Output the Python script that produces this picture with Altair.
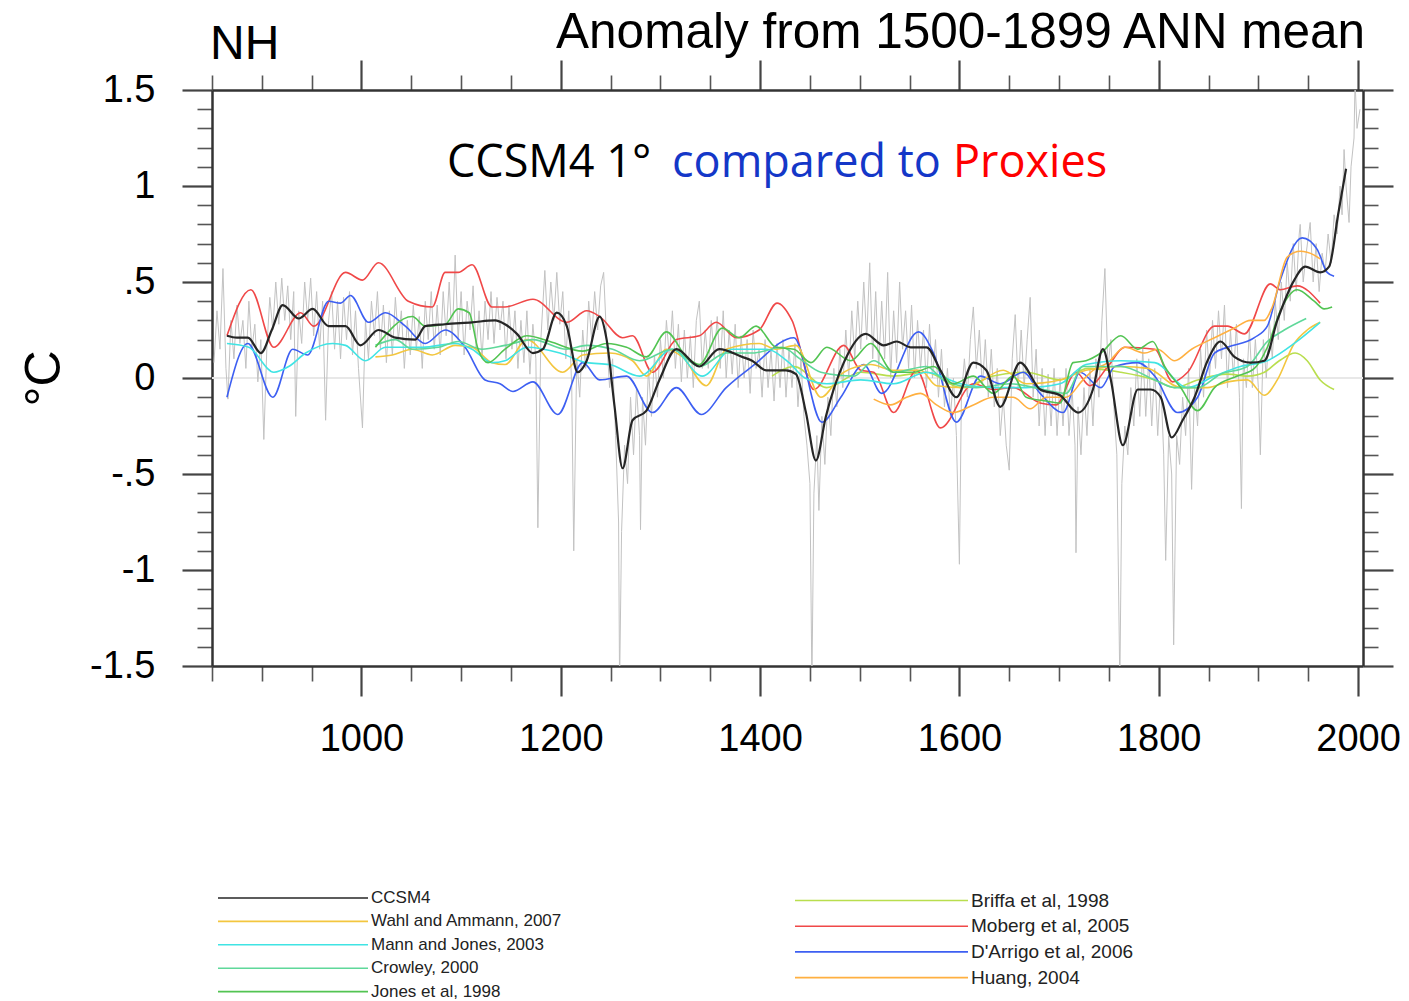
import altair as alt
import pandas as pd

# ---------------- text ----------------
left_title = "NH"
right_title = "Anomaly from 1500-1899 ANN mean"
headline_parts = ["CCSM4 1° ", "compared to ", "Proxies"]
headline_colors = ["#000000", "#1437c8", "#ff0000"]
y_title = "°C"

# ---------------- ticks ----------------
x_major = [1000, 1200, 1400, 1600, 1800, 2000]
x_minor = [850, 900, 950, 1050, 1100, 1150, 1250, 1300, 1350, 1450, 1500, 1550, 1650, 1700, 1750, 1850, 1900, 1950]
y_major = [-1.5, -1.0, -0.5, 0.0, 0.5, 1.0, 1.5]
y_minor = [-1.4, -1.3, -1.2, -1.1, -0.9, -0.8, -0.7, -0.6, -0.4, -0.3, -0.2, -0.1,
           0.1, 0.2, 0.3, 0.4, 0.6, 0.7, 0.8, 0.9, 1.1, 1.2, 1.3, 1.4]

# ---------------- legend categories ----------------
left_names = ["CCSM4", "Wahl and Ammann, 2007", "Mann and Jones, 2003", "Crowley, 2000", "Jones et al, 1998"]
left_colors = ["#262626", "#f3c63f", "#40e4e4", "#5fd89a", "#52c452"]
right_names = ["Briffa et al, 1998", "Moberg et al, 2005", "D'Arrigo et al, 2006", "Huang, 2004"]
right_colors = ["#b9de4e", "#f04848", "#3d5ff2", "#ffb040"]

# ---------------- series (year, anomaly) ----------------
# CCSM4 annual, last-millennium run
ccsm4_annual_lm = [
    (852, .08), (855, .35), (858, .15), (861, .57), (864, .05), (866, -.11), (869, .30), (872, .10), (875, .38),
    (878, .18), (881, .30), (884, .05), (887, .40), (890, .15), (893, .28), (896, -.02), (899, .20), (902, -.32),
    (905, .15), (908, .42), (911, .25), (914, .50), (917, .28), (920, .52), (923, .30), (926, .48), (929, .20),
    (932, .45), (934, -.20), (937, .35), (940, .18), (943, .50), (946, .30), (949, .52), (952, .22), (955, .45),
    (958, .15), (961, .40), (964, -.22), (967, .30), (970, .45), (973, .15), (976, .40), (979, .10), (982, .42),
    (985, .20), (988, .45), (991, .12), (994, .35), (997, .05), (1001, -.26), (1004, .30), (1007, .10), (1010, .40),
    (1013, .22), (1016, .45), (1019, .15), (1022, .38), (1025, .08), (1028, .35), (1031, .12), (1034, .42),
    (1037, .20), (1040, .35), (1043, .05), (1046, .30), (1049, .12), (1052, .38), (1055, .15), (1058, .32),
    (1061, .05), (1064, .40), (1067, .20), (1070, .45), (1073, .15), (1076, .38), (1079, .12), (1082, .45),
    (1085, .22), (1088, .50), (1091, .18), (1094, .64), (1097, .20), (1100, .45), (1103, .12), (1106, .40),
    (1109, .25), (1112, .48), (1115, .15), (1118, .35), (1121, .10), (1124, .40), (1127, .20), (1130, .45),
    (1133, .18), (1136, .42), (1139, .25), (1142, .40), (1145, .10), (1148, .38), (1151, .15), (1154, .35),
    (1157, .05), (1160, .30), (1163, .08), (1166, .35), (1169, .02), (1172, .28), (1175, .10), (1177, -.78),
    (1180, .20), (1184, .56), (1187, .25), (1190, .50), (1193, .30), (1196, .55), (1199, .28), (1202, .45),
    (1205, .10), (1208, .35), (1211, -.05), (1213, -.90), (1216, .10), (1219, -.10), (1222, .25), (1225, .05),
    (1228, .40), (1231, .20), (1234, .45), (1237, .25), (1240, .48), (1243, .55), (1246, .20), (1249, -.05),
    (1252, .10), (1255, -.30), (1258, -.75), (1259, -1.6), (1261, -.80), (1264, -.35), (1267, -.55), (1270, -.10),
    (1273, -.40), (1276, -.05), (1279, -.30), (1280, -.79), (1282, -.10), (1285, -.35), (1288, .05), (1291, -.20),
    (1294, .12), (1297, -.10), (1300, .20), (1303, .00), (1306, .30), (1309, .10), (1312, .35), (1315, .05),
    (1318, .28), (1321, -.02), (1324, .25), (1327, .00), (1330, .22), (1333, -.05), (1336, .30), (1339, .40),
    (1342, .05), (1345, .25), (1348, .05), (1351, .30), (1354, .10), (1357, .32), (1360, .05), (1363, .35),
    (1366, .00), (1369, .25), (1372, .02), (1375, .28), (1378, -.05), (1381, .22), (1384, .00), (1387, .20),
    (1390, -.08), (1393, .25), (1396, .05), (1399, .15), (1402, -.10), (1405, .20), (1408, -.05), (1411, .15),
    (1414, -.12), (1417, .18), (1420, -.05), (1423, .20), (1426, -.10), (1429, .15), (1432, -.05), (1435, .18),
    (1438, -.15), (1441, .10), (1444, -.20), (1447, -.35), (1450, -.55), (1452, -1.6), (1454, -.60), (1457, -.30),
    (1459, -.69), (1462, -.20), (1465, -.45), (1468, -.10), (1471, -.30), (1474, .05), (1477, -.15), (1480, .15),
    (1483, -.05), (1486, .25), (1489, .00), (1492, .35), (1495, .10), (1498, .40), (1501, .15), (1504, .50),
    (1507, .20), (1510, .60), (1513, .10), (1516, .45), (1519, .05), (1522, .40), (1525, .10), (1528, .55),
    (1531, .00), (1534, .35), (1537, .08), (1540, .50), (1543, .15), (1546, .35), (1549, .05), (1552, .38),
    (1555, .00), (1558, .30), (1561, .05), (1564, .25), (1567, -.05), (1570, .28), (1573, .00), (1576, .20),
    (1579, -.10), (1582, .15), (1585, -.15), (1588, .05), (1591, -.20), (1594, .00), (1597, -.30), (1600, -.97),
    (1602, -.10), (1605, .10), (1608, -.10), (1611, .20), (1614, .37), (1617, .05), (1620, .25), (1623, -.05),
    (1626, .20), (1629, -.10), (1632, .15), (1635, -.15), (1638, .05), (1641, -.30), (1644, -.10), (1647, -.35),
    (1650, -.48), (1653, .10), (1656, .33), (1659, -.05), (1662, .25), (1665, -.05), (1668, .20), (1671, .42),
    (1674, -.10), (1677, .15), (1680, -.25), (1683, .05), (1686, -.30), (1689, .02), (1692, -.25), (1695, .05),
    (1698, -.30), (1701, .00), (1704, -.25), (1707, .05), (1710, -.30), (1713, -.05), (1716, -.35), (1717, -.91),
    (1719, -.15), (1722, -.40), (1725, -.05), (1728, -.30), (1731, .05), (1734, -.25), (1737, .10), (1740, -.10),
    (1743, .30), (1746, .57), (1749, .05), (1752, .20), (1755, -.15), (1758, -.40), (1761, -1.6), (1763, -.55),
    (1766, -.25), (1769, -.40), (1772, -.05), (1775, -.25), (1778, .10), (1781, -.20), (1784, .15), (1787, -.20),
    (1790, .10), (1793, -.25), (1796, .05), (1799, -.30), (1802, .00), (1805, -.40), (1807, -.95), (1810, -.30),
    (1813, -.50), (1815, -1.39), (1818, -.30), (1821, -.45), (1824, -.10), (1827, -.30), (1830, .05), (1833, -.58),
    (1836, -.05), (1839, -.25), (1842, .15), (1845, -.10), (1848, .25), (1851, .00),
]
# CCSM4 annual, historical run
ccsm4_annual_hist = [
    (1851, .00), (1854, .30), (1857, .05),
    (1860, .35), (1863, .10), (1866, .38), (1869, -.05), (1872, .25), (1875, .00), (1878, .28), (1881, -.10),
    (1883, -.68), (1885, .10), (1888, -.05), (1891, .25), (1894, -.05), (1897, .20), (1900, -.05), (1902, -.40),
    (1905, .20), (1908, .00), (1911, .30), (1914, .10), (1917, .40), (1920, .20), (1923, .50), (1926, .30),
    (1929, .60), (1932, .40), (1935, .70), (1938, .45), (1941, .75), (1942, .80), (1945, .50), (1948, .65),
    (1952, .81), (1955, .50), (1958, .70), (1961, .45), (1964, .65), (1967, .55), (1970, .75), (1973, .60),
    (1976, .85), (1979, .75), (1982, 1.00), (1984, .85), (1986, 1.19), (1988, 1.00), (1991, .81), (1993, 1.10),
    (1996, 1.25), (1997, 1.55), (1999, 1.30), (2002, 1.40),
]

ccsm4_smooth = [
    (865, .22), (875, .21), (886, .21), (899, .13), (910, .25), (921, .38), (937, .31), (951, .36), (967, .27),
    (984, .27), (999, .17), (1017, .25), (1034, .21), (1054, .20), (1064, .27), (1084, .28), (1111, .29),
    (1134, .30), (1144, .28), (1156, .23), (1172, .13), (1182, .15), (1196, .34), (1206, .27), (1217, .03),
    (1226, .09), (1239, .32), (1246, .20), (1254, -.15), (1262, -.47), (1272, -.22), (1286, -.17), (1299, -.01),
    (1316, .15), (1339, .06), (1359, .15), (1382, .11), (1392, .09), (1406, .04), (1426, .04), (1436, .02),
    (1446, -.18), (1456, -.43), (1466, -.20), (1484, .08), (1506, .23), (1524, .17), (1537, .19), (1551, .16),
    (1567, .16), (1581, .04), (1597, -.10), (1614, .08), (1627, .04), (1641, -.15), (1661, .08), (1681, -.06),
    (1701, -.09), (1719, -.18), (1734, -.06), (1744, .15), (1752, -.01), (1764, -.35), (1779, -.06), (1792, -.06),
    (1802, -.10), (1813, -.31), (1824, -.22), (1836, -.10), (1849, .09), (1862, .19), (1876, .11), (1892, .08),
    (1906, .09), (1919, .30), (1936, .51), (1947, .58), (1962, .55), (1971, .58), (1980, .85), (1988, 1.09),
]

wahl_2007 = [
    (1014, .11), (1031, .12), (1051, .15), (1071, .12), (1094, .17), (1111, .16), (1131, .08), (1144, .07),
    (1166, .20), (1202, .03), (1222, .12), (1249, .13), (1272, .09), (1286, .01), (1306, .15), (1322, .11),
    (1346, -.04), (1366, .15), (1399, .18), (1416, .15), (1436, .17), (1461, -.10), (1484, .03), (1511, .07),
    (1534, .04), (1561, .04), (1577, -.04), (1607, -.05), (1644, .04), (1667, -.03), (1701, -.01), (1727, .04),
    (1762, .06), (1789, .05), (1822, -.05), (1849, -.05), (1869, -.02), (1889, -.01), (1906, -.09), (1919, -.01),
    (1936, .18), (1949, .25), (1962, .29),
]

mann_jones_2003 = [
    (865, .18), (887, .16), (912, .03), (927, .06), (944, .13), (971, .18), (984, .17), (1004, .09), (1024, .16),
    (1044, .16), (1061, .16), (1094, .18), (1111, .15), (1131, .08), (1144, .09), (1166, .16), (1199, .13),
    (1226, .08), (1249, .07), (1279, .01), (1312, .15), (1342, .01), (1372, .15), (1406, .15), (1429, .08),
    (1445, .00), (1467, -.03), (1501, -.01), (1534, -.03), (1567, .03), (1601, -.03), (1634, -.05), (1667, -.05),
    (1701, -.03), (1727, .07), (1762, .09), (1796, .08), (1829, -.05), (1856, .01), (1882, .06), (1909, .09),
    (1936, .18), (1962, .29),
]

crowley_2000 = [
    (1014, .17), (1034, .20), (1051, .15), (1077, .16), (1097, .19), (1121, .15), (1144, .17), (1172, .20),
    (1206, .15), (1226, .17), (1252, .15), (1279, .09), (1312, .15), (1339, .06), (1366, .13), (1392, .13),
    (1422, .16), (1440, .10), (1461, .03), (1494, .01), (1514, .09), (1534, .03), (1567, .06), (1584, -.01),
    (1617, -.05), (1651, -.03), (1684, -.06), (1707, -.08), (1724, .06), (1762, .06), (1796, -.01), (1816, -.05),
    (1839, -.05), (1862, .02), (1889, .06), (1909, .19), (1926, .25), (1948, .31),
]

jones_1998 = [
    (1014, .16), (1051, .32), (1064, .27), (1084, .28), (1097, .36), (1108, .34), (1117, .15), (1127, .08),
    (1144, .15), (1166, .22), (1189, .19), (1222, .14), (1246, .18), (1266, .16), (1286, .11), (1306, .24),
    (1326, .11), (1339, .07), (1362, .26), (1379, .21), (1396, .27), (1416, .16), (1434, .15), (1451, .08),
    (1467, .16), (1491, .09), (1511, .18), (1534, .03), (1554, .03), (1574, .06), (1594, -.03), (1614, .01),
    (1634, -.08), (1654, .01), (1667, -.10), (1687, -.12), (1701, -.13), (1714, .08), (1727, .09), (1742, .13),
    (1762, .22), (1779, .15), (1794, .19), (1806, .06), (1822, -.05), (1839, -.17), (1856, -.05), (1879, .01),
    (1896, .05), (1909, .16), (1922, .35), (1939, .46), (1956, .40), (1966, .36), (1974, .37),
]

briffa_1998 = [
    (1412, .01), (1434, .06), (1467, -.05), (1501, .03), (1534, .01), (1567, .03), (1601, -.05), (1634, .01),
    (1667, .03), (1701, -.01), (1729, .05), (1762, .03), (1796, -.01), (1816, -.05), (1839, -.01), (1869, .02),
    (1889, .01), (1906, .03), (1921, .09), (1937, .13), (1949, .09), (1962, -.01), (1976, -.06),
]

moberg_2005 = [
    (865, .22), (889, .46), (912, .16), (939, .34), (952, .27), (984, .55), (1001, .51), (1017, .60), (1047, .40),
    (1071, .37), (1084, .55), (1097, .55), (1111, .59), (1131, .37), (1144, .37), (1172, .41), (1206, .29),
    (1226, .35), (1239, .32), (1262, .21), (1272, .22), (1292, .03), (1316, .20), (1339, .22), (1356, .29),
    (1376, .21), (1399, .25), (1417, .39), (1432, .30), (1454, -.06), (1484, .17), (1501, .04), (1514, .03),
    (1534, -.18), (1557, .04), (1581, -.26), (1614, -.03), (1634, -.06), (1654, -.05), (1681, -.13), (1697, -.14),
    (1717, .03), (1731, -.04), (1749, .06), (1766, .16), (1796, .15), (1814, -.02), (1829, .03), (1856, .27),
    (1869, .27), (1886, .23), (1912, .49), (1922, .46), (1939, .48), (1962, .39),
]

darrigo_2006 = [
    (865, -.10), (886, .18), (911, -.10), (931, .15), (946, .12), (967, .40), (979, .39), (989, .43), (1007, .29),
    (1024, .34), (1044, .27), (1064, .18), (1084, .25), (1104, .16), (1124, -.01), (1139, -.03), (1152, -.07),
    (1172, -.02), (1197, -.19), (1222, .08), (1239, -.01), (1266, .01), (1292, -.18), (1316, -.05), (1341, -.19),
    (1366, -.05), (1392, .06), (1434, .21), (1462, -.23), (1481, -.10), (1504, .07), (1522, -.08), (1559, .24),
    (1574, .13), (1597, -.23), (1621, .01), (1641, -.03), (1664, .03), (1681, -.08), (1704, -.18), (1721, .03),
    (1742, -.05), (1756, .06), (1779, .08), (1796, .01), (1819, -.18), (1839, -.10), (1856, .13), (1869, .16),
    (1896, .21), (1909, .27), (1922, .51), (1944, .73), (1959, .67), (1969, .55), (1976, .53),
]

huang_2004 = [
    (1514, -.11), (1531, -.14), (1547, -.10), (1561, -.08), (1577, -.14), (1594, -.18), (1614, -.14), (1634, -.10),
    (1654, -.10), (1671, -.16), (1687, -.10), (1707, -.10), (1724, -.01), (1734, .04), (1749, .08), (1766, .16),
    (1786, .13), (1799, .15), (1816, .09), (1833, .15), (1856, .21), (1876, .26), (1892, .30), (1906, .30),
    (1914, .37), (1929, .63), (1942, .66), (1956, .64), (1962, .62),
]

x_span = [850, 2005]
zero_level = [0.0]


def frame(name, pairs):
    return pd.DataFrame({"series": name, "year": [p[0] for p in pairs], "value": [p[1] for p in pairs]})


left_df = pd.concat([
    frame(left_names[1], wahl_2007),
    frame(left_names[2], mann_jones_2003),
    frame(left_names[3], crowley_2000),
    frame(left_names[4], jones_1998),
    frame(left_names[0], ccsm4_smooth),
], ignore_index=True)

right_df = pd.concat([
    frame(right_names[0], briffa_1998),
    frame(right_names[1], moberg_2005),
    frame(right_names[2], darrigo_2006),
    frame(right_names[3], huang_2004),
], ignore_index=True)

lm_df = frame("annual", ccsm4_annual_lm)
hist_df = frame("annual", ccsm4_annual_hist)
zero_df = pd.DataFrame({"x0": [x_span[0]], "x1": [x_span[1]], "z": zero_level})

# ---------------- styling ----------------
FONT = "Liberation Sans"
xscale = alt.Scale(domain=x_span, nice=False, zero=False)
yscale = alt.Scale(domain=[-1.5, 1.5], nice=False, zero=False)

base_axis = dict(domainColor="#333333", domainWidth=2.5, tickColor="#444444", grid=False, title=None)


def major_axis(orient, values, labels=False, **kw):
    opts = dict(base_axis)
    opts.update(kw)
    return alt.Axis(orient=orient, values=values, tickSize=30, tickWidth=2.2, labels=labels, **opts)


def minor_axis(orient, values):
    return alt.Axis(orient=orient, values=values, tickSize=15, tickWidth=1.6, labels=False, domain=False,
                    tickColor="#555555", grid=False, title=None)


x_bottom_major = major_axis(
    "bottom", x_major, labels=True, format="d", labelFont=FONT, labelFontSize=38, labelColor="#000000",
    labelPadding=24, labelOverlap=False, labelFlush=False,
)
y_left_major = alt.Axis(
    orient="left", values=y_major, tickSize=30, tickWidth=2.2,
    labelExpr="replace('' + datum.value, '0.', '.')",
    labelFont=FONT, labelFontSize=38, labelColor="#000000", labelPadding=27, labelOverlap=False, labelFlush=False,
    title=y_title, titleFont=FONT, titleFontSize=50, titleFontWeight="normal", titleColor="#000000",
    titlePadding=20, domainColor="#333333", domainWidth=2.5, tickColor="#444444", grid=False,
)
x_top_major = major_axis("top", x_major)
y_right_major = major_axis("right", y_major)

# ---------------- layers ----------------
zero_line = alt.Chart(zero_df).mark_rule(color="#e8e8e8", strokeWidth=2).encode(
    x=alt.X("x0:Q", scale=xscale, axis=minor_axis("bottom", x_minor)),
    x2="x1:Q",
    y=alt.Y("z:Q", scale=yscale, axis=minor_axis("left", y_minor)),
)

annual_lm = alt.Chart(lm_df).mark_line(color="#c2c2c2", strokeWidth=1, clip=True).encode(
    x=alt.X("year:Q", scale=xscale, axis=x_bottom_major),
    y=alt.Y("value:Q", scale=yscale, axis=y_left_major),
)

annual_hist = alt.Chart(hist_df).mark_line(color="#c2c2c2", strokeWidth=1, clip=True).encode(
    x=alt.X("year:Q", scale=xscale, axis=minor_axis("top", x_minor)),
    y=alt.Y("value:Q", scale=yscale, axis=minor_axis("right", y_minor)),
)

right_lines = alt.Chart(right_df).mark_line(interpolate="monotone", strokeWidth=1.6, clip=True).encode(
    x=alt.X("year:Q", scale=xscale, axis=x_top_major),
    y=alt.Y("value:Q", scale=yscale, axis=y_right_major),
    color=alt.Color(
        "series:N",
        scale=alt.Scale(domain=right_names, range=right_colors),
        legend=alt.Legend(
            title=None, orient="none", legendX=583, legendY=801, padding=0,
            symbolType="M-86.5,0L86.5,0", symbolSize=4, symbolStrokeWidth=1.6,
            symbolOffset=77, labelOffset=80, labelFont=FONT, labelFontSize=19,
            labelColor="#222222", labelLimit=400, rowPadding=5.7,
        ),
    ),
)

left_lines = alt.Chart(left_df).mark_line(interpolate="monotone", clip=True).encode(
    x=alt.X("year:Q", scale=xscale, axis=None),
    y=alt.Y("value:Q", scale=yscale, axis=None),
    color=alt.Color(
        "series:N",
        scale=alt.Scale(domain=left_names, range=left_colors),
        legend=alt.Legend(
            title=None, orient="none", legendX=6, legendY=799.5, padding=0,
            symbolType="M-75,0L75,0", symbolSize=4, symbolStrokeWidth=1.6,
            symbolOffset=66.5, labelOffset=69.5, labelFont=FONT, labelFontSize=17,
            labelColor="#222222", labelLimit=400, rowPadding=5.4,
        ),
    ),
    strokeWidth=alt.condition(alt.datum.series == "CCSM4", alt.value(2.2), alt.value(1.6)),
)


def label(text, x, y, size, color="#000000", align="left", font=FONT):
    return alt.Chart(pd.DataFrame({"t": [text]})).mark_text(
        align=align, baseline="alphabetic", font=font, fontSize=size, color=color
    ).encode(text="t:N", x=alt.value(x), y=alt.value(y))


texts = [
    label(left_title, -2, -31, 48),
    label(right_title, 1153, -42, 49.5, align="right"),
    label(headline_parts[0], 235, 87, 45, headline_colors[0], font="Open Sans"),
    label(headline_parts[1], 460, 87, 45, headline_colors[1], font="Open Sans"),
    label(headline_parts[2], 741, 87, 45, headline_colors[2], font="Open Sans"),
]

chart = alt.layer(zero_line, annual_lm, annual_hist, right_lines, left_lines, *texts).resolve_scale(
    color="independent"
).resolve_axis(
    x="independent", y="independent"
).properties(
    width=1151, height=576,
    padding={"left": 212, "top": 90, "right": 46, "bottom": 335},
    autosize=alt.AutoSizeParams(type="none"),
    background="#ffffff",
).configure_view(strokeWidth=0)

chart.save("out.html", embed_options={"renderer": "svg", "actions": False})
